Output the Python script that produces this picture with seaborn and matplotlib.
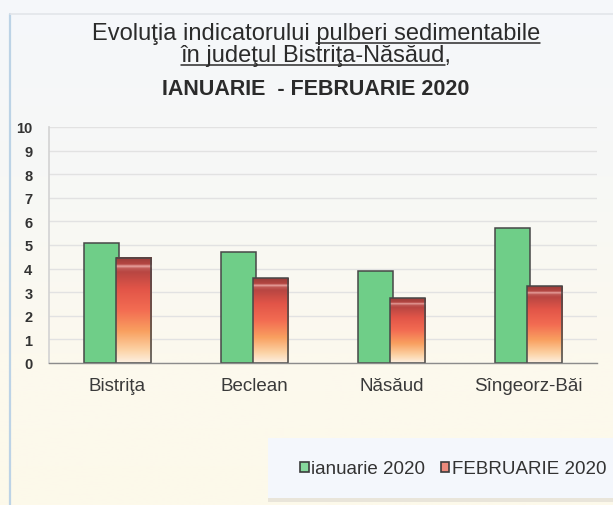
import numpy as np
import pandas as pd
import matplotlib
matplotlib.use("Agg")
import matplotlib.pyplot as plt
import seaborn as sns
from matplotlib.patches import Patch, Rectangle
from matplotlib.lines import Line2D
from matplotlib.colors import LinearSegmentedColormap

# data
categories = ["Bistriţa", "Beclean", "Năsăud", "Sîngeorz-Băi"]
months = ["ianuarie 2020", "FEBRUARIE 2020"]
ianuarie = [5.1, 4.7, 3.9, 5.7]
februarie = [4.45, 3.6, 2.75, 3.25]
yticks = list(range(0, 11))

title_1 = "Evoluţia indicatorului pulberi sedimentabile"
title_1_under = "pulberi sedimentabile"
title_2 = "în judeţul Bistriţa-Năsăud,"
title_2_under = "în judeţul Bistriţa-Năsăud"
title_3 = "IANUARIE  - FEBRUARIE 2020"

df = pd.DataFrame({
    "oras": categories * 2,
    "luna": [months[0]] * len(categories) + [months[1]] * len(categories),
    "valoare": ianuarie + februarie,
})

sns.set_theme(style="white")
plt.rcParams["font.family"] = ["Liberation Sans", "DejaVu Sans"]

W, H = 613, 506
fig = plt.figure(figsize=(W / 100, H / 100), dpi=100)

# background: bluish white on top -> cream at the bottom
bg = fig.add_axes([0, 0, 1, 1], zorder=-10)
bg_cmap = LinearSegmentedColormap.from_list(
    "bg", [(0, "#fdf9ea"), (0.3, "#fcf9ee"), (0.65, "#f7f8f6"), (1, "#f5f7fb")])
bg.imshow(np.linspace(0, 1, 256).reshape(-1, 1), aspect="auto", cmap=bg_cmap,
          extent=[0, 1, 0, 1], origin="lower")
bg.axis("off")

# frame lines of the original chart object
fig.add_artist(Line2D([10 / W, 10 / W], [0, 1 - 15 / H], color="#bcd3e6", lw=1.6,
                      transform=fig.transFigure))
fig.add_artist(Line2D([10 / W, 1], [1 - 15 / H, 1 - 15 / H], color="#e2e5ea", lw=1.2,
                      transform=fig.transFigure))

# legend box
fig.add_artist(Rectangle((268 / W, 1 - 503 / H), (W - 268) / W, 5 / H,
                         transform=fig.transFigure, facecolor="#e9e5da",
                         edgecolor="none", zorder=-6))
fig.add_artist(Rectangle((268 / W, 1 - 499 / H), (W - 268) / W, 60 / H,
                         transform=fig.transFigure, facecolor="#f4f7fc",
                         edgecolor="none", zorder=-5))

ax = fig.add_axes([49 / W, 1 - 364 / H, 548 / W, 236 / H])
ax.set_facecolor("none")

green = "#6fce88"
red = "#e8604c"
edge = "#474747"

sns.barplot(data=df, x="oras", y="valoare", hue="luna", hue_order=months,
            palette=[green, red], width=0.47, saturation=1,
            edgecolor=edge, linewidth=1.1, legend=False, ax=ax)

bar_w = 0.26
for cont in ax.containers:
    for p in cont:
        cx = p.get_x() + p.get_width() / 2
        p.set_x(cx - bar_w / 2)
        p.set_width(bar_w)

# gradient fill for the february bars
red_cmap = LinearSegmentedColormap.from_list("rg", [
    (0.0, "#fdf0e2"), (0.12, "#fcd3a6"), (0.3, "#f9a060"), (0.5, "#f36c52"),
    (0.7, "#e25548"), (0.86, "#b84642"), (0.895, "#c05a56"), (0.915, "#eaa6a2"),
    (0.935, "#b44642"), (1.0, "#9a3c38")])
grad = np.linspace(0, 1, 256).reshape(-1, 1)
for p in ax.containers[1]:
    x0 = p.get_x()
    h = p.get_height()
    ax.imshow(grad, extent=[x0, x0 + bar_w, 0, h], aspect="auto", cmap=red_cmap,
              origin="lower", interpolation="bilinear", zorder=p.get_zorder() + 0.05)
    p.set_facecolor("none")
    p.set_zorder(p.get_zorder() + 0.1)

ax.set_xlim(-0.5, len(categories) - 0.5)
ax.set_ylim(0, 10)
ax.set_yticks(yticks)
ax.set_xlabel("")
ax.set_ylabel("")
ax.set_axisbelow(True)
ax.yaxis.grid(True, color="#e2e2e2", lw=1)
ax.xaxis.grid(False)
for s in ["top", "right"]:
    ax.spines[s].set_visible(False)
ax.spines["left"].set_color("#d4d4d4")
ax.spines["bottom"].set_color("#8c8c8c")
ax.spines["bottom"].set_linewidth(1)

ax.tick_params(axis="y", length=0, pad=12, labelsize=10.5, labelcolor="#333333")
for t in ax.get_yticklabels():
    t.set_fontweight("bold")
ax.tick_params(axis="x", length=0, pad=10, labelsize=13.5, labelcolor="#3a3a3a")

# legend
handles = [Patch(facecolor="#86d89c", edgecolor="#3c3c3c", lw=1.2),
           Patch(facecolor="#ec8a7c", edgecolor="#3c3c3c", lw=1.2)]
leg = ax.legend(handles, months, loc="center right",
                bbox_to_anchor=(606 / W, 1 - 470 / H), bbox_transform=fig.transFigure,
                ncol=2, frameon=False, fontsize=13.5, handlelength=0.45,
                handleheight=0.45, handletextpad=0.12, columnspacing=0.85,
                borderaxespad=0, borderpad=0)
for t in leg.get_texts():
    t.set_color("#333333")

# title with underlined parts
tx = 316 / W
t1 = fig.text(tx, 1 - 40 / H, title_1, ha="center", va="baseline", fontsize=17,
              color="#2b2b2b")
t2 = fig.text(tx, 1 - 62.5 / H, title_2, ha="center", va="baseline", fontsize=17,
              color="#2b2b2b")
t3 = fig.text(tx, 1 - 95 / H, title_3, ha="center", va="baseline", fontsize=15.5,
              fontweight="bold", color="#2b2b2b")

fig.canvas.draw()
r = fig.canvas.get_renderer()


def text_width(s, **kw):
    tmp = fig.text(0, 0, s, **kw)
    w = tmp.get_window_extent(r).width
    tmp.remove()
    return w


b1 = t1.get_window_extent(r)
w1 = text_width(title_1_under, fontsize=17)
y1 = 1 - 44 / H
fig.add_artist(Line2D([(b1.x1 - w1) / W, b1.x1 / W], [y1, y1], color="#2b2b2b",
                      lw=1.1, transform=fig.transFigure))

b2 = t2.get_window_extent(r)
w2 = text_width(title_2_under, fontsize=17)
y2 = 1 - 65.5 / H
fig.add_artist(Line2D([b2.x0 / W, (b2.x0 + w2) / W], [y2, y2], color="#2b2b2b",
                      lw=1.1, transform=fig.transFigure))

fig.savefig("out.png", dpi=100)
